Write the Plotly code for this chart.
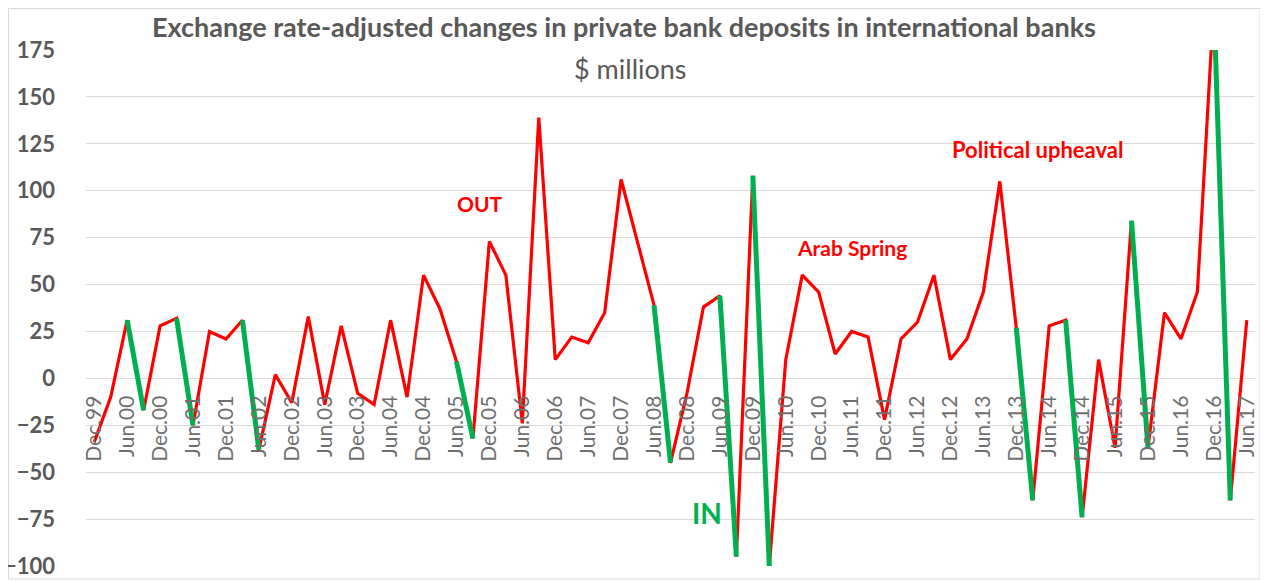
import plotly.graph_objects as go

quarters = [
    "Dec.99", "Mar.00", "Jun.00", "Sep.00", "Dec.00", "Mar.01", "Jun.01", "Sep.01",
    "Dec.01", "Mar.02", "Jun.02", "Sep.02", "Dec.02", "Mar.03", "Jun.03", "Sep.03",
    "Dec.03", "Mar.04", "Jun.04", "Sep.04", "Dec.04", "Mar.05", "Jun.05", "Sep.05",
    "Dec.05", "Mar.06", "Jun.06", "Sep.06", "Dec.06", "Mar.07", "Jun.07", "Sep.07",
    "Dec.07", "Mar.08", "Jun.08", "Sep.08", "Dec.08", "Mar.09", "Jun.09", "Sep.09",
    "Dec.09", "Mar.10", "Jun.10", "Sep.10", "Dec.10", "Mar.11", "Jun.11", "Sep.11",
    "Dec.11", "Mar.12", "Jun.12", "Sep.12", "Dec.12", "Mar.13", "Jun.13", "Sep.13",
    "Dec.13", "Mar.14", "Jun.14", "Sep.14", "Dec.14", "Mar.15", "Jun.15", "Sep.15",
    "Dec.15", "Mar.16", "Jun.16", "Sep.16", "Dec.16", "Mar.17", "Jun.17",
]

deposit_change = [
    -34, -10, 31, -17, 28, 32, -25, 25,
    21, 31, -38, 2, -13, 33, -14, 28,
    -8, -14, 31, -10, 55, 37, 9, -32,
    73, 55, -24, 139, 10, 22, 19, 35,
    106, 73, 39, -45, -8, 38, 44, -95,
    108, -100, 10, 55, 46, 13, 25, 22,
    -22, 21, 30, 55, 10, 21, 46, 105,
    27, -65, 28, 31, -74, 10, -37, 84,
    -37, 35, 21, 46, 200, -65, 31,
]

# quarters from which the line segment to the next quarter is drawn green ("IN")
green_segment_starts = ["Jun.00", "Mar.01", "Mar.02", "Jun.05", "Jun.08", "Jun.09",
                        "Dec.09", "Dec.13", "Sep.14", "Sep.15", "Dec.16"]

tick_labels = [
    "Dec.99", "Jun.00", "Dec.00", "Jun.01", "Dec.01", "Jun.02", "Dec.02", "Jun.03",
    "Dec.03", "Jun.04", "Dec.04", "Jun.05", "Dec.05", "Jun.06", "Dec.06", "Jun.07",
    "Dec.07", "Jun.08", "Dec.08", "Jun.09", "Dec.09", "Jun.10", "Dec.10", "Jun.11",
    "Dec.11", "Jun.12", "Dec.12", "Jun.13", "Dec.13", "Jun.14", "Dec.14", "Jun.15",
    "Dec.15", "Jun.16", "Dec.16", "Jun.17",
]

annotations_text = ["OUT", "IN", "Arab Spring", "Political upheaval"]

RED = "#FF0000"
GREEN = "#00B050"
GREY = "#595959"
FONT = "Lato"

# the page body has an 8 px default margin, so the figure is 8 px smaller
W, H = 1260, 574
ML, MR, MT, MB = 78, 13, 42, 16

# green overlay segments
gx, gy = [], []
for q in green_segment_starts:
    i = quarters.index(q)
    gx += [quarters[i], quarters[i + 1], None]
    gy += [deposit_change[i], deposit_change[i + 1], None]

fig = go.Figure()
fig.add_trace(go.Scatter(x=quarters, y=deposit_change, mode="lines",
                         line=dict(color=RED, width=3.2), hoverinfo="x+y",
                         showlegend=False))
fig.add_trace(go.Scatter(x=gx, y=gy, mode="lines", connectgaps=False,
                         line=dict(color=GREEN, width=5), hoverinfo="skip",
                         showlegend=False))


def px_to_paper(px, py):
    return (px - ML) / (W - ML - MR), (H - MB - py) / (H - MT - MB)


# annotation placement (layout): (x as category index, y in data units, colour, size)
ann_layout = [(23.4, 93, RED, 21), (37.2, -72, GREEN, 28),
              (46.0, 70, RED, 21), (57.3, 122, RED, 22)]
ann = []
for t, (x, y, c, s) in zip(annotations_text, ann_layout):
    ann.append(dict(text=f"<b>{t}</b>", x=x, y=y, xref="x", yref="y",
                    showarrow=False, font=dict(family=FONT, size=s, color=c)))

sx, sy = px_to_paper(622, 61)
ann.append(dict(text="$ millions", x=sx, y=sy, xref="paper", yref="paper",
                showarrow=False, xanchor="center", yanchor="middle",
                font=dict(family=FONT, size=27, color=GREY)))

x0, y0 = px_to_paper(0.5, 571)
x1, y1 = px_to_paper(1252, 0.5)

fig.update_layout(
    width=W, height=H,
    margin=dict(l=ML, r=MR, t=MT, b=MB),
    paper_bgcolor="white", plot_bgcolor="white",
    title=dict(text="<b>Exchange rate-adjusted changes in private bank deposits in international banks</b>",
               x=616 / W, xanchor="center", y=1 - 20 / H, yanchor="middle",
               font=dict(family=FONT, size=27, color=GREY)),
    annotations=ann,
    shapes=[dict(type="rect", xref="paper", yref="paper", x0=x0, y0=y0, x1=x1, y1=y1,
                 line=dict(color="#D9D9D9", width=1), layer="below")],
    xaxis=dict(type="category", range=[-0.5, len(quarters) - 0.5],
               tickmode="array", tickvals=tick_labels, ticktext=tick_labels,
               tickangle=-90, showgrid=False, zeroline=False, showline=False,
               anchor="free", position=100 / 275, ticks="", automargin=False,
               ticklabelstandoff=12,
               tickfont=dict(family=FONT, size=21, color="#6F6F6F")),
    yaxis=dict(range=[-100, 175], dtick=25, tick0=0, showgrid=True,
               gridcolor="#D9D9D9", gridwidth=1, zeroline=False, showline=False,
               ticks="", ticklabelstandoff=30, automargin=False,
               tickfont=dict(family=FONT, size=22, color=GREY),
               tickprefix="<b>", ticksuffix="</b>"),
)

fig.write_html("out.html")
